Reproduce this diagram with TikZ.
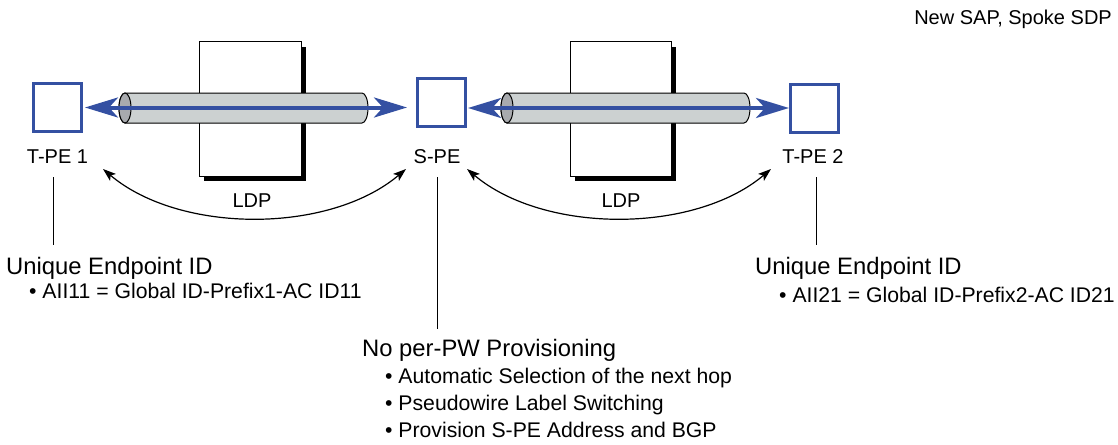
\documentclass[tikz,border=0pt]{standalone}
\usepackage{fontspec}
\setmainfont{Liberation Sans}
\usetikzlibrary{arrows.meta}
\definecolor{pwblue}{RGB}{52,80,162}
\definecolor{pipegray}{RGB}{204,209,209}
\definecolor{pipeend}{RGB}{168,170,174}
\newcommand{\hdsize}{\fontsize{23.8pt}{28pt}\selectfont}
\newcommand{\btsize}{\fontsize{21.2pt}{25pt}\selectfont}
\newcommand{\lbsize}{\fontsize{20pt}{24pt}\selectfont}

\begin{document}
\begin{tikzpicture}[x=1pt,y=-1pt]
  \tikzstyle{pebox}=[draw=pwblue, line width=3pt, minimum size=48pt, inner sep=0pt]
  \tikzstyle{lbl}=[inner sep=0pt, anchor=base, font=\lbsize]
  \tikzstyle{head}=[inner sep=0pt, anchor=base west, font=\hdsize]
  \tikzstyle{item}=[inner sep=0pt, anchor=base west, font=\btsize]
  \tikzstyle{pw}=[line width=4pt, draw=pwblue, {Stealth[length=33pt,width=20pt,inset=9pt]}-{Stealth[length=33pt,width=20pt,inset=9pt]}]
  \tikzstyle{sess}=[line width=1.2pt, {Stealth[length=13pt,width=9pt,inset=3pt]}-{Stealth[length=13pt,width=9pt,inset=3pt]}]
  \tikzstyle{leader}=[line width=1pt]
  \useasboundingbox (0,0) rectangle (1118,444);

  % LDP sheets, with drop shadow
  \foreach \xa/\xb in {199/301, 570/671}{
    \fill (\xa+5,47) rectangle (\xb+5,181);
    \draw[fill=white, line width=1pt] (\xa,42) rectangle (\xb,176);
  }
  % tunnels
  \foreach \xa/\xb in {119/368, 501/750}{
    \draw[fill=pipegray, line width=1pt] (\xa+6,93) -- (\xb-6,93) arc (90:-90:6pt and 15pt)
      -- (\xa+6,123) arc (-90:-270:6pt and 15pt) -- cycle;
    \draw[fill=pipeend, line width=1pt] (\xa+6,108) ellipse (6pt and 15pt);
  }

  \node[pebox] (tpe1) at (57.5,107.5) {};
  \node[pebox] (spe) at (441.5,102) {};
  \node[pebox] (tpe2) at (814.5,108) {};
  \draw[pw, shorten <=2pt, shorten >=9pt] (tpe1.east) -- (tpe1.east -| spe.west);
  \draw[pw, shorten <=1pt] (spe.east |- tpe2.west) -- (tpe2.west);

  \node[lbl] (tpe1lbl) at (57.5,163) {T-PE 1};
  \node[lbl] (spelbl) at (437,163) {S-PE};
  \node[lbl] (tpe2lbl) at (813,163) {T-PE 2};
  \node[lbl] (ldp1) at (252,207) {LDP};
  \node[lbl] (ldp2) at (621,207) {LDP};

  % targeted LDP sessions
  \coordinate (s1a) at (103,169);
  \coordinate (s1b) at (406,169);
  \coordinate (s2a) at (467,169);
  \coordinate (s2b) at (771,169);
  \draw[sess] (s1a) .. controls (180,234) and (329,234) .. (s1b);
  \draw[sess] (s2a) .. controls (544,234) and (694,234) .. (s2b);

  % leaders
  \coordinate (t1top) at (53,177);
  \coordinate (t1bot) at (53,245);
  \coordinate (sptop) at (437,177);
  \coordinate (spbot) at (437,329);
  \coordinate (t2top) at (816,177);
  \coordinate (t2bot) at (816,245);
  \draw[leader] (t1top) -- (t1bot);
  \draw[leader] (sptop) -- (spbot);
  \draw[leader] (t2top) -- (t2bot);

  \node[head] (uep1) at (6,274) {Unique Endpoint ID};
  \node[item] (aii1) at (29,298) {\textbullet\ AII11 = Global ID-Prefix1-AC ID11};
  \node[head] (uep2) at (755,274) {Unique Endpoint ID};
  \node[item] (aii2) at (779,302) {\textbullet\ AII21 = Global ID-Prefix2-AC ID21};
  \node[head] (noprov) at (362,356) {No per-PW Provisioning};
  \node[item] (auto) at (385,383) {\textbullet\ Automatic Selection of the next hop};
  \node[item] (swap) at (385,410) {\textbullet\ Pseudowire Label Switching};
  \node[item] (bgp) at (385,437) {\textbullet\ Provision S-PE Address and BGP};
  \node[inner sep=0pt, anchor=base east, font=\lbsize] (title) at (1112,25) {New SAP, Spoke SDP};
\end{tikzpicture}
\end{document}
